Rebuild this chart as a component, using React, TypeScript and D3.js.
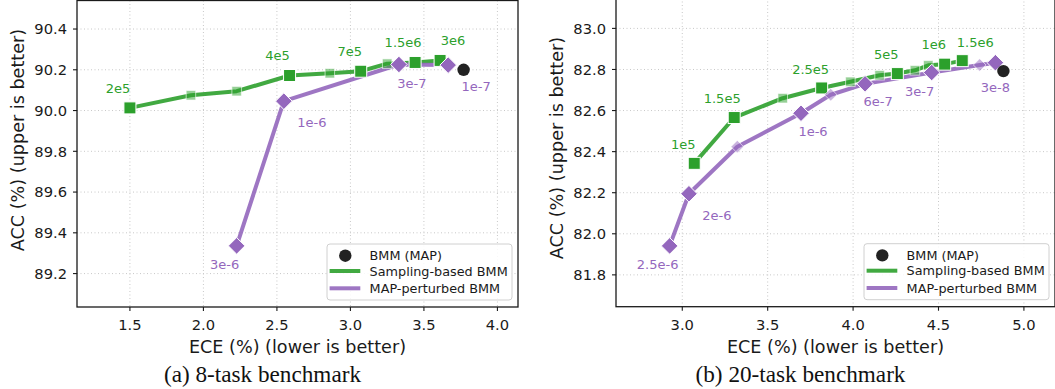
import * as d3 from "d3";

// ---- 8-task benchmark ----
const eightSamplingEce = [1.5, 1.915, 2.226, 2.586, 2.86, 3.07, 3.25, 3.44, 3.61];
const eightSamplingAcc = [90.013, 90.075, 90.095, 90.172, 90.183, 90.193, 90.23, 90.236, 90.246];
const eightSamplingTags = ["2e5", "", "", "4e5", "", "7e5", "", "1.5e6", "3e6"];

const eightPerturbedEce = [2.226, 2.547, 3.33, 3.665];
const eightPerturbedAcc = [89.336, 90.046, 90.226, 90.223];
const eightPerturbedTags = ["3e-6", "1e-6", "3e-7", "1e-7"];

const eightMap = [3.77, 90.2];

// ---- 20-task benchmark ----
const twentySamplingEce = [3.07, 3.304, 3.588, 3.816, 3.984, 4.155, 4.259, 4.362, 4.44, 4.536, 4.639];
const twentySamplingAcc = [82.343, 82.566, 82.66, 82.71, 82.74, 82.772, 82.78, 82.796, 82.82, 82.826, 82.843];
const twentySamplingTags = ["1e5", "1.5e5", "", "2.5e5", "", "", "5e5", "", "", "1e6", "1.5e6"];

const twentyPerturbedEce = [2.926, 3.039, 3.322, 3.695, 3.869, 4.07, 4.46, 4.741, 4.833];
const twentyPerturbedAcc = [81.941, 82.195, 82.424, 82.587, 82.677, 82.73, 82.785, 82.822, 82.833];
const twentyPerturbedTags = ["2.5e-6", "2e-6", "", "1e-6", "", "6e-7", "3e-7", "", "3e-8"];

const twentyMap = [4.88, 82.792];

const eightXTicks = [1.5, 2.0, 2.5, 3.0, 3.5, 4.0];
const eightYTicks = [89.2, 89.4, 89.6, 89.8, 90.0, 90.2, 90.4];
const twentyXTicks = [3.0, 3.5, 4.0, 4.5, 5.0];
const twentyYTicks = [81.8, 82.0, 82.2, 82.4, 82.6, 82.8, 83.0];

// label offsets (px) relative to the marker, one per tagged point
const eightSamplingOffsets = [[-12, -15], [-12, -15], [-11, -15], [-12, -15], [13, -15]];
const eightPerturbedOffsets = [[-12, 23], [28, 26], [13, 24], [28, 26]];
const twentySamplingOffsets = [[-11, -14], [-12, -15], [-11, -14], [-11, -15], [-11, -15], [13, -14]];
const twentyPerturbedOffsets = [[-12, 23], [28, 26], [12, 23], [13, 22], [-12, 23], [0, 29]];

const GREEN = "#2ca02c";
const PURPLE = "#9467bd";
const FONT = "'DejaVu Sans', sans-serif";

type Series = { ece: number[]; acc: number[]; tags: string[]; offsets: number[][] };

type PanelProps = {
  left: number;
  right: number;
  top: number;
  bottom: number;
  xDomain: [number, number];
  yDomain: [number, number];
  xTicks: number[];
  yTicks: number[];
  sampling: Series;
  perturbed: Series;
  map: number[];
  caption: string;
  yLabelMid: number;
};

function Panel(p: PanelProps) {
  const x = d3.scaleLinear(p.xDomain, [p.left, p.right]);
  const y = d3.scaleLinear(p.yDomain, [p.bottom, p.top]);

  const pathFor = (s: Series) =>
    d3
      .line<number>()
      .x((d) => x(d))
      .y((_, i) => y(s.acc[i]))(s.ece) ?? undefined;

  const tagged = (s: Series) => {
    const out: { tag: string; cx: number; cy: number; dx: number; dy: number }[] = [];
    let k = 0;
    s.ece.forEach((e, i) => {
      if (s.tags[i]) {
        const o = s.offsets[k++] ?? [0, 0];
        out.push({ tag: s.tags[i], cx: x(e), cy: y(s.acc[i]), dx: o[0], dy: o[1] });
      }
    });
    return out;
  };

  const cx = (p.left + p.right) / 2;
  const leg = { w: 185, h: 56 };
  const lx = p.right - 6 - leg.w;
  const ly = p.bottom - 7 - leg.h;

  return (
    <g fontFamily={FONT}>
      {/* grid */}
      {p.xTicks.map((t) => (
        <line key={"gx" + t} x1={x(t)} x2={x(t)} y1={p.top} y2={p.bottom} stroke="#c8c8c8" strokeWidth={1} strokeDasharray="1,2.5" />
      ))}
      {p.yTicks.map((t) => (
        <line key={"gy" + t} x1={p.left} x2={p.right} y1={y(t)} y2={y(t)} stroke="#c8c8c8" strokeWidth={1} strokeDasharray="1,2.5" />
      ))}

      {/* lines */}
      <path d={pathFor(p.sampling)} fill="none" stroke={GREEN} strokeWidth={4} strokeOpacity={0.9} strokeLinejoin="round" />
      <path d={pathFor(p.perturbed)} fill="none" stroke={PURPLE} strokeWidth={4} strokeOpacity={0.9} strokeLinejoin="round" />

      {/* sampling markers */}
      {p.sampling.ece.map((e, i) => {
        const big = p.sampling.tags[i] !== "";
        const s = big ? 12 : 9.5;
        return (
          <rect
            key={"sq" + i}
            x={x(e) - s / 2}
            y={y(p.sampling.acc[i]) - s / 2}
            width={s}
            height={s}
            fill={GREEN}
            fillOpacity={big ? 1 : 0.5}
            stroke="#fff"
            strokeOpacity={big ? 1 : 0.6}
            strokeWidth={1}
          />
        );
      })}
      {/* perturbed markers */}
      {p.perturbed.ece.map((e, i) => {
        const big = p.perturbed.tags[i] !== "";
        const r = big ? 8.3 : 6.3;
        const px = x(e);
        const py = y(p.perturbed.acc[i]);
        return (
          <path
            key={"dm" + i}
            d={`M${px},${py - r}L${px + r},${py}L${px},${py + r}L${px - r},${py}Z`}
            fill={PURPLE}
            fillOpacity={big ? 1 : 0.5}
            stroke="#fff"
            strokeOpacity={big ? 1 : 0.6}
            strokeWidth={1}
          />
        );
      })}
      <circle cx={x(p.map[0])} cy={y(p.map[1])} r={6.2} fill="#222" />

      {/* value tags */}
      {tagged(p.sampling).map((t) => (
        <text key={"ts" + t.tag} x={t.cx + t.dx} y={t.cy + t.dy} fill={GREEN} fontSize={13} textAnchor="middle">
          {t.tag}
        </text>
      ))}
      {tagged(p.perturbed).map((t) => (
        <text key={"tp" + t.tag} x={t.cx + t.dx} y={t.cy + t.dy} fill={PURPLE} fontSize={13} textAnchor="middle">
          {t.tag}
        </text>
      ))}

      {/* spines */}
      <rect x={p.left} y={p.top} width={p.right - p.left} height={p.bottom - p.top} fill="none" stroke="#1a1a1a" strokeWidth={1.3} />

      {/* ticks */}
      {p.xTicks.map((t) => (
        <g key={"xt" + t}>
          <line x1={x(t)} x2={x(t)} y1={p.bottom} y2={p.bottom + 4} stroke="#1a1a1a" strokeWidth={1.1} />
          <text x={x(t)} y={p.bottom + 23} fontSize={14.7} textAnchor="middle" fill="#1a1a1a">
            {t.toFixed(1)}
          </text>
        </g>
      ))}
      {p.yTicks.map((t) => (
        <g key={"yt" + t}>
          <line x1={p.left - 4} x2={p.left} y1={y(t)} y2={y(t)} stroke="#1a1a1a" strokeWidth={1.1} />
          <text x={p.left - 10} y={y(t) + 5.3} fontSize={14.7} textAnchor="end" fill="#1a1a1a">
            {t.toFixed(1)}
          </text>
        </g>
      ))}

      {/* axis labels */}
      <text x={cx} y={p.bottom + 46} fontSize={17.6} textAnchor="middle" fill="#1a1a1a">
        ECE (%) (lower is better)
      </text>
      <text
        transform={`translate(${p.left - 53},${p.yLabelMid}) rotate(-90)`}
        fontSize={17.6}
        textAnchor="middle"
        fill="#1a1a1a"
      >
        ACC (%) (upper is better)
      </text>
      <text x={cx - 35} y={382} fontSize={23.2} textAnchor="middle" fontFamily="'Liberation Serif', serif" fill="#111">
        {p.caption}
      </text>

      {/* legend */}
      <rect x={lx} y={ly} width={leg.w} height={leg.h} rx={3} fill="#fff" fillOpacity={0.85} stroke="#d0d0d0" strokeWidth={1} />
      <circle cx={lx + 18.3} cy={ly + 11.7} r={6.2} fill="#222" />
      <line x1={lx + 2.6} x2={lx + 33.3} y1={ly + 27} y2={ly + 27} stroke={GREEN} strokeWidth={4} strokeOpacity={0.9} />
      <line x1={lx + 2.6} x2={lx + 33.3} y1={ly + 44.3} y2={ly + 44.3} stroke={PURPLE} strokeWidth={4} strokeOpacity={0.9} />
      <text x={lx + 42.6} y={ly + 16} fontSize={12.8} fill="#1a1a1a">BMM (MAP)</text>
      <text x={lx + 42.6} y={ly + 31.6} fontSize={12.8} fill="#1a1a1a">Sampling-based BMM</text>
      <text x={lx + 42.6} y={ly + 49} fontSize={12.8} fill="#1a1a1a">MAP-perturbed BMM</text>
    </g>
  );
}

export default function App() {
  return (
    <svg
      width={1055}
      height={389}
      viewBox="0 0 1055 389"
      style={{ position: "absolute", left: 0, top: 0, background: "#fff" }}
    >
      <Panel
        left={77}
        right={518}
        top={0.5}
        bottom={307}
        xDomain={[1.14, 4.14]}
        yDomain={[89.036, 90.54]}
        xTicks={eightXTicks}
        yTicks={eightYTicks}
        sampling={{ ece: eightSamplingEce, acc: eightSamplingAcc, tags: eightSamplingTags, offsets: eightSamplingOffsets }}
        perturbed={{ ece: eightPerturbedEce, acc: eightPerturbedAcc, tags: eightPerturbedTags, offsets: eightPerturbedOffsets }}
        map={eightMap}
        caption="(a) 8-task benchmark"
        yLabelMid={140}
      />
      <Panel
        left={616}
        right={1055}
        top={-2}
        bottom={306.7}
        xDomain={[2.612, 5.182]}
        yDomain={[81.645, 83.148]}
        xTicks={twentyXTicks}
        yTicks={twentyYTicks}
        sampling={{ ece: twentySamplingEce, acc: twentySamplingAcc, tags: twentySamplingTags, offsets: twentySamplingOffsets }}
        perturbed={{ ece: twentyPerturbedEce, acc: twentyPerturbedAcc, tags: twentyPerturbedTags, offsets: twentyPerturbedOffsets }}
        map={twentyMap}
        caption="(b) 20-task benchmark"
        yLabelMid={148}
      />
    </svg>
  );
}
